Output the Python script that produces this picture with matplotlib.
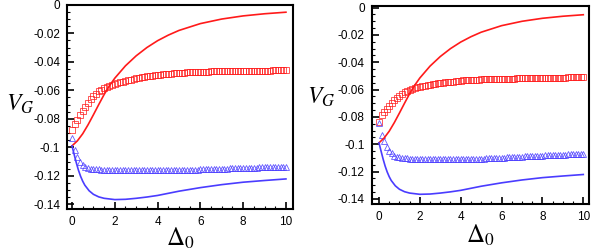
import numpy as np
import matplotlib
matplotlib.use("Agg")
import matplotlib.pyplot as plt
from matplotlib.ticker import MultipleLocator

plt.rcParams['font.family'] = ['Liberation Sans', 'DejaVu Sans']
plt.rcParams['mathtext.fontset'] = 'stix'

# ---- data ----
# marker grid (Delta_0)
k = np.arange(81)
x_mark = k * 0.125

left_squares = [
    -0.0879, -0.0834, -0.0805, -0.0773, -0.0744, -0.0716, -0.0688, -0.0663, -0.0638,
    -0.0624, -0.0608, -0.0597, -0.0587, -0.0578, -0.0570, -0.0563, -0.0556,
    -0.0551, -0.0545, -0.0540, -0.0535, -0.0530, -0.0525, -0.0521, -0.0517,
    -0.0513, -0.0509, -0.0506, -0.0503, -0.0500, -0.0497, -0.0494, -0.0492,
    -0.0490, -0.0488, -0.0486, -0.0484, -0.0483, -0.0481, -0.0480, -0.0478,
    -0.0477, -0.0476, -0.0475, -0.0474, -0.0473, -0.0472, -0.0471, -0.0470,
    -0.0470, -0.0469, -0.0469, -0.0468, -0.0468, -0.0467, -0.0467, -0.0466,
    -0.0466, -0.0466, -0.0465, -0.0465, -0.0465, -0.0464, -0.0464, -0.0464,
    -0.0464, -0.0463, -0.0463, -0.0463, -0.0463, -0.0462, -0.0462, -0.0462,
    -0.0462, -0.0462, -0.0461, -0.0461, -0.0461, -0.0461, -0.0461, -0.0461,
]

left_triangles = [
    -0.0937, -0.1020, -0.1068, -0.1100, -0.1122, -0.1136, -0.1144, -0.1149, -0.1152,
    -0.1154, -0.1155, -0.1156, -0.1157, -0.1158, -0.1158, -0.1159, -0.1159,
    -0.1160, -0.1160, -0.1160, -0.1161, -0.1161, -0.1161, -0.1161, -0.1161,
    -0.1161, -0.1161, -0.1161, -0.1161, -0.1161, -0.1161, -0.1161, -0.1161,
    -0.1161, -0.1161, -0.1160, -0.1160, -0.1160, -0.1160, -0.1159, -0.1159,
    -0.1159, -0.1158, -0.1158, -0.1157, -0.1157, -0.1156, -0.1156, -0.1155,
    -0.1155, -0.1154, -0.1154, -0.1153, -0.1152, -0.1152, -0.1151, -0.1150,
    -0.1150, -0.1149, -0.1148, -0.1148, -0.1147, -0.1146, -0.1146, -0.1145,
    -0.1144, -0.1144, -0.1143, -0.1142, -0.1142, -0.1141, -0.1140, -0.1140,
    -0.1139, -0.1139, -0.1138, -0.1137, -0.1137, -0.1136, -0.1136, -0.1135,
]

right_squares = [
    -0.0835, -0.0788, -0.0767, -0.0745, -0.0720, -0.0698, -0.0678, -0.0662, -0.0647,
    -0.0632, -0.0618, -0.0610, -0.0603, -0.0596, -0.0589, -0.0584, -0.0579,
    -0.0575, -0.0571, -0.0567, -0.0563, -0.0560, -0.0557, -0.0554, -0.0551,
    -0.0549, -0.0547, -0.0545, -0.0543, -0.0541, -0.0539, -0.0537, -0.0534,
    -0.0533, -0.0532, -0.0531, -0.0530, -0.0529, -0.0528, -0.0527, -0.0526,
    -0.0525, -0.0525, -0.0524, -0.0523, -0.0523, -0.0522, -0.0522, -0.0521,
    -0.0521, -0.0520, -0.0520, -0.0519, -0.0519, -0.0518, -0.0518, -0.0517,
    -0.0517, -0.0517, -0.0516, -0.0516, -0.0515, -0.0515, -0.0515, -0.0514,
    -0.0514, -0.0514, -0.0513, -0.0513, -0.0513, -0.0512, -0.0512, -0.0512,
    -0.0512, -0.0511, -0.0511, -0.0511, -0.0511, -0.0510, -0.0510, -0.0510,
]

right_triangles = [
    -0.0847, -0.0930, -0.0978, -0.1020, -0.1047, -0.1068, -0.1083, -0.1092, -0.1097,
    -0.1100, -0.1102, -0.1104, -0.1105, -0.1106, -0.1107, -0.1107, -0.1108,
    -0.1108, -0.1109, -0.1109, -0.1109, -0.1110, -0.1110, -0.1110, -0.1110,
    -0.1111, -0.1111, -0.1111, -0.1111, -0.1111, -0.1110, -0.1110, -0.1110,
    -0.1110, -0.1109, -0.1109, -0.1108, -0.1108, -0.1107, -0.1107, -0.1106,
    -0.1105, -0.1104, -0.1104, -0.1103, -0.1102, -0.1101, -0.1100, -0.1099,
    -0.1098, -0.1097, -0.1096, -0.1095, -0.1094, -0.1093, -0.1092, -0.1091,
    -0.1090, -0.1089, -0.1088, -0.1087, -0.1086, -0.1085, -0.1084, -0.1083,
    -0.1082, -0.1081, -0.1080, -0.1080, -0.1079, -0.1078, -0.1077, -0.1076,
    -0.1076, -0.1075, -0.1074, -0.1074, -0.1073, -0.1073, -0.1072, -0.1072,
]

red_x = [0, 0.25, 0.5, 0.75, 1.0, 1.25, 1.5, 1.75, 2.0, 2.5, 3.0, 3.5, 4.0, 4.5,
         5.0, 6.0, 7.0, 8.0, 9.0, 10.0]
red_line = [-0.0990, -0.0955, -0.0905, -0.0842, -0.0772, -0.0700, -0.0630, -0.0568,
            -0.0515, -0.0428, -0.0358, -0.0300, -0.0252, -0.0213, -0.0180, -0.0132,
            -0.0100, -0.0078, -0.0063, -0.0052]

blue_x = [0, 0.1, 0.2, 0.3, 0.4, 0.5, 0.6, 0.8, 1.0, 1.25, 1.5, 2.0, 2.5, 3.0, 3.5,
          4.0, 5.0, 6.0, 7.0, 8.0, 9.0, 10.0]
blue_line = [-0.0990, -0.1050, -0.1108, -0.1160, -0.1203, -0.1238, -0.1266, -0.1305,
             -0.1330, -0.1348, -0.1358, -0.1367, -0.1365, -0.1358, -0.1349, -0.1338,
             -0.1308, -0.1283, -0.1262, -0.1245, -0.1233, -0.1222]

x_ticks = [0, 2, 4, 6, 8, 10]
y_ticks = [0, -0.02, -0.04, -0.06, -0.08, -0.1, -0.12, -0.14]
y_ticklabels = ['0', '-0.02', '-0.04', '-0.06', '-0.08', '-0.1', '-0.12', '-0.14']

RED = '#ff1a1a'
BLUE = '#4a3cff'

W, H = 598, 252
fig = plt.figure(figsize=(W / 100, H / 100), dpi=100)

def px_axes(l, t, r, b):
    return fig.add_axes([l / W, 1 - b / H, (r - l) / W, (b - t) / H])

panels = [
    dict(box=(67, 4.5, 293, 209), xlim=(-0.234, 10.33), ylim=(-0.1433, 0.0002),
         sq=left_squares, tr=left_triangles, vg=(20, 104), dl=(180, 238)),
    dict(box=(371.7, 6, 589, 204), xlim=(-0.357, 10.28), ylim=(-0.1438, 0.0012),
         sq=right_squares, tr=right_triangles, vg=(321, 97), dl=(480, 235)),
]

for p in panels:
    ax = px_axes(*p['box'])
    ax.plot(red_x, red_line, color=RED, lw=1.2, zorder=3)
    ax.plot(blue_x, blue_line, color=BLUE, lw=1.2, zorder=3)
    ax.plot(x_mark, p['sq'], linestyle='none', marker='s', ms=3.8, mfc='none',
            mec=RED, mew=0.6, alpha=0.85, zorder=2)
    ax.plot(x_mark, p['tr'], linestyle='none', marker='^', ms=4.2, mfc='none',
            mec=BLUE, mew=0.6, alpha=0.85, zorder=2)
    ax.set_xlim(*p['xlim'])
    ax.set_ylim(*p['ylim'])
    ax.set_xticks(x_ticks)
    ax.set_xticklabels([str(t) for t in x_ticks])
    ax.set_yticks(y_ticks)
    ax.set_yticklabels(y_ticklabels)
    ax.xaxis.set_minor_locator(MultipleLocator(0.5))
    ax.yaxis.set_minor_locator(MultipleLocator(0.005))
    ax.tick_params(which='major', direction='in', length=5, width=1.2,
                   labelsize=8.5, pad=5, top=False, right=False)
    ax.tick_params(which='minor', direction='in', length=2.5, width=0.8,
                   top=False, right=False)
    for s in ax.spines.values():
        s.set_linewidth(1.5)
    fig.text(p['vg'][0] / W, 1 - p['vg'][1] / H, r'$V_G$', fontsize=17,
             ha='center', va='center')
    fig.text(p['dl'][0] / W, 1 - p['dl'][1] / H, r'$\Delta_0$', fontsize=18,
             ha='center', va='center')

fig.savefig('out.png', dpi=100)
